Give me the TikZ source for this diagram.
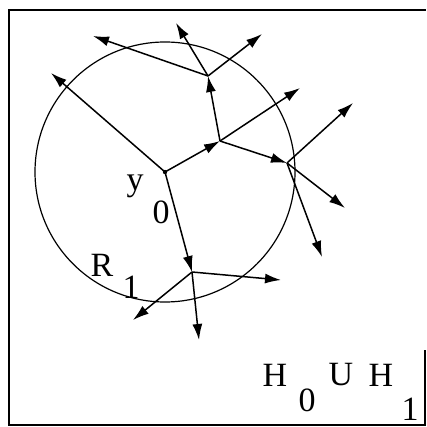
\documentclass[tikz,border=0pt]{standalone}
\usepackage{fontspec}
\setmainfont{Liberation Serif}
\usetikzlibrary{arrows.meta}

\begin{document}
\begin{tikzpicture}[x=1pt,y=-1pt,
  ray/.style={line width=1.5pt,-{Latex[length=16pt,width=10pt]}},
  lbl/.style={font=\fontsize{34}{34}\selectfont,inner sep=0pt}]
\useasboundingbox (0,0) rectangle (426,427);
% frame
\draw[line width=1.6pt] (425,350) -- (425,425) -- (9,425) -- (9,10) -- (426,10);

% ball around y0
\coordinate (y0) at (165,172);
\draw[line width=1.2pt] (y0) circle (130);
\fill (y0) circle (2.2pt);

% branching points
\coordinate (a) at (220,141);
\coordinate (c) at (208,76);
\coordinate (d) at (287,163);
\coordinate (b) at (192,272);

% free ends
\coordinate (t1) at (51,73);
\coordinate (t2) at (300,88);
\coordinate (c1) at (93,36);
\coordinate (c2) at (176,23);
\coordinate (c3) at (262,34);
\coordinate (d1) at (353,103);
\coordinate (d2) at (345,208);
\coordinate (d3) at (322,257);
\coordinate (b1) at (133,320);
\coordinate (b2) at (199,340);
\coordinate (b3) at (281,280);

\draw[ray] (y0) -- (t1);
\draw[ray] (y0) -- (a);
\draw[ray] (y0) -- (b);
\draw[ray] (a) -- (c);
\draw[ray] (a) -- (t2);
\draw[ray] (a) -- (d);
\foreach \e in {c1,c2,c3} \draw[ray] (c) -- (\e);
\foreach \e in {d1,d2,d3} \draw[ray] (d) -- (\e);
\foreach \e in {b1,b2,b3} \draw[ray] (b) -- (\e);

% labels
\node[lbl] (ly) at (135,186) {y};
\node[lbl] (l0) at (161,212) {0};
\node[lbl] (lr) at (102,265) {R};
\node[lbl] (l1) at (131,287) {1};
\node[lbl] (h0) at (275,375) {H};
\node[lbl] (s0) at (307,400) {0};
\node[lbl] (lu) at (341,375) {U};
\node[lbl] (h1) at (381,375) {H};
\node[lbl] (s1) at (410,409) {1};
\end{tikzpicture}
\end{document}
